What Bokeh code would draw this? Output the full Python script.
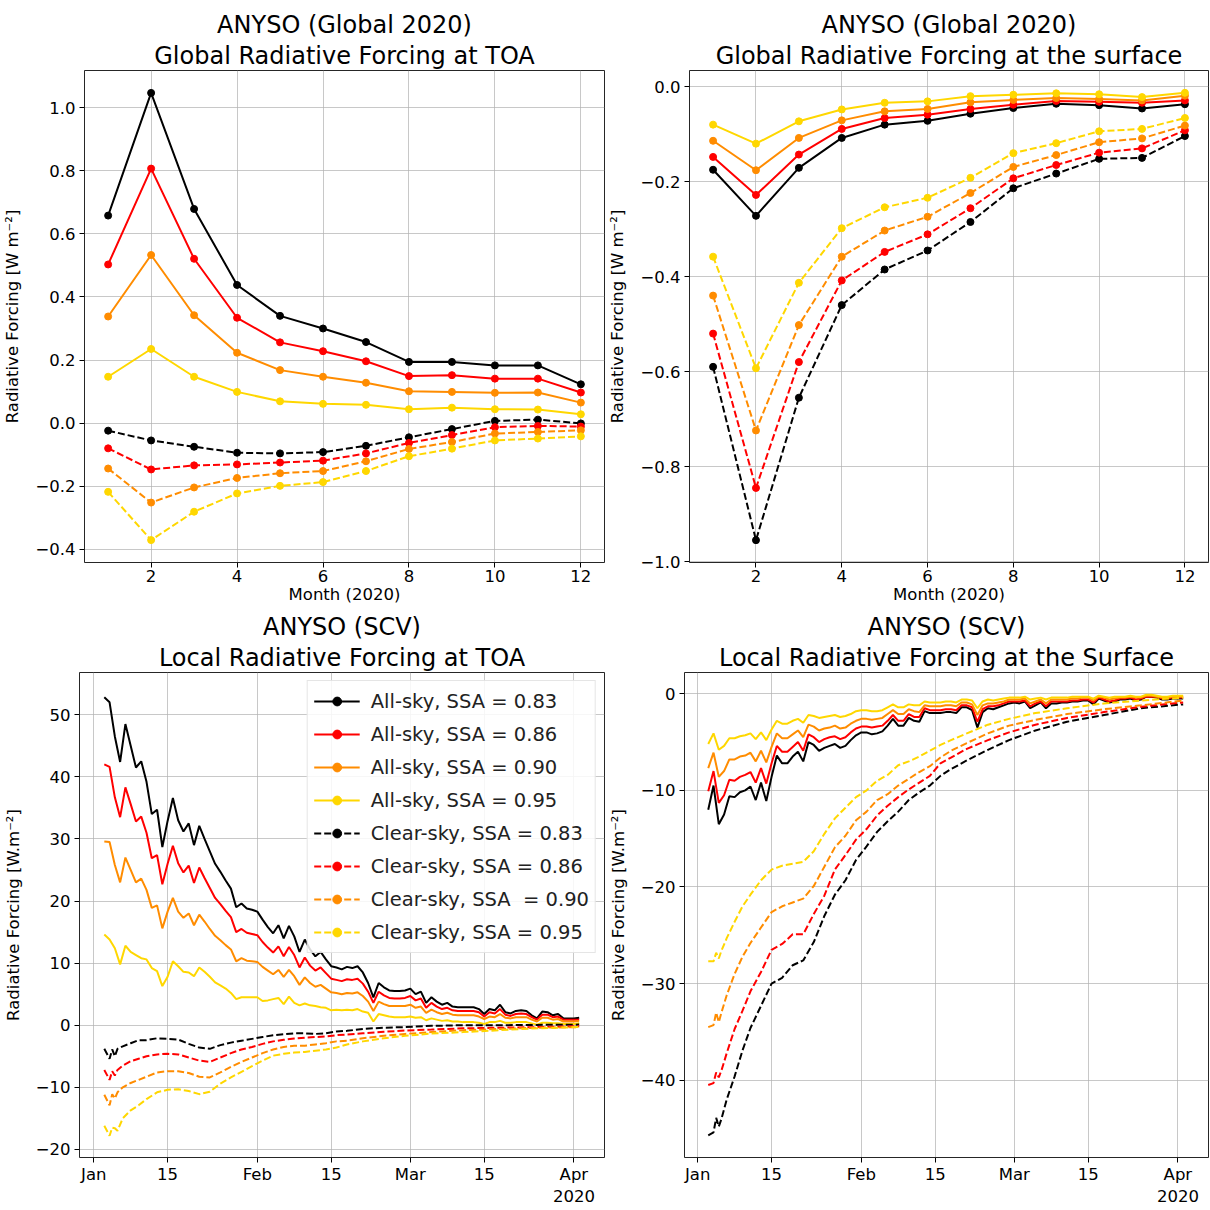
from bokeh.plotting import figure
from bokeh.layouts import column, row
from bokeh.models import (Range1d, FixedTicker, CustomJSTickFormatter, Title,
                          Legend, LegendItem)
from bokeh.embed import file_html
from bokeh.resources import INLINE

# ---------------- data: global monthly (top panels) ----------------
months = [1, 2, 3, 4, 5, 6, 7, 8, 9, 10, 11, 12]

glob_toa_all_083 = [0.658, 1.047, 0.679, 0.438, 0.340, 0.300, 0.257, 0.194, 0.194, 0.183, 0.183, 0.123]
glob_toa_all_086 = [0.503, 0.807, 0.521, 0.334, 0.256, 0.228, 0.196, 0.149, 0.152, 0.141, 0.141, 0.097]
glob_toa_all_090 = [0.338, 0.533, 0.342, 0.223, 0.168, 0.147, 0.128, 0.101, 0.099, 0.096, 0.097, 0.065]
glob_toa_all_095 = [0.147, 0.235, 0.147, 0.099, 0.069, 0.061, 0.058, 0.044, 0.049, 0.044, 0.043, 0.028]
glob_toa_clr_083 = [-0.024, -0.055, -0.075, -0.094, -0.096, -0.092, -0.072, -0.045, -0.019, 0.007, 0.011, -0.001]
glob_toa_clr_086 = [-0.080, -0.147, -0.134, -0.131, -0.125, -0.119, -0.096, -0.063, -0.038, -0.013, -0.009, -0.011]
glob_toa_clr_090 = [-0.144, -0.252, -0.204, -0.174, -0.159, -0.152, -0.121, -0.082, -0.060, -0.033, -0.028, -0.023]
glob_toa_clr_095 = [-0.218, -0.371, -0.281, -0.223, -0.199, -0.187, -0.152, -0.105, -0.081, -0.055, -0.049, -0.042]

glob_sfc_all_083 = [-0.175, -0.272, -0.171, -0.108, -0.080, -0.072, -0.057, -0.045, -0.036, -0.039, -0.046, -0.037]
glob_sfc_all_086 = [-0.148, -0.228, -0.143, -0.089, -0.066, -0.059, -0.047, -0.038, -0.030, -0.032, -0.034, -0.029]
glob_sfc_all_090 = [-0.114, -0.176, -0.108, -0.071, -0.052, -0.047, -0.033, -0.028, -0.024, -0.026, -0.029, -0.019]
glob_sfc_all_095 = [-0.080, -0.120, -0.073, -0.048, -0.034, -0.031, -0.020, -0.017, -0.014, -0.016, -0.022, -0.013]
glob_sfc_clr_083 = [-0.590, -0.955, -0.655, -0.460, -0.385, -0.345, -0.285, -0.214, -0.183, -0.152, -0.150, -0.104]
glob_sfc_clr_086 = [-0.520, -0.845, -0.580, -0.408, -0.348, -0.311, -0.256, -0.193, -0.165, -0.139, -0.130, -0.092]
glob_sfc_clr_090 = [-0.440, -0.724, -0.502, -0.358, -0.303, -0.274, -0.224, -0.169, -0.144, -0.117, -0.109, -0.082]
glob_sfc_clr_095 = [-0.358, -0.593, -0.413, -0.298, -0.254, -0.234, -0.192, -0.140, -0.119, -0.094, -0.089, -0.066]

# ---------------- data: local daily (bottom panels), day 0 = 1 Jan 2020 ----------------
days = list(range(2, 93))

scv_toa_all_083 = [52.8, 52.0, 46.5, 42.4, 48.5, 45.0, 41.5, 42.5, 39.2, 34.0,
                   34.7, 28.7, 32.9, 36.6, 33.0, 31.2, 32.5, 29.0, 32.1, 30.0,
                   28.0, 26.0, 24.7, 23.3, 22.0, 19.0, 19.6, 18.8, 18.6, 18.3,
                   17.0, 15.8, 14.8, 16.1, 14.0, 16.0, 14.3, 11.8, 13.8, 12.2,
                   11.1, 11.8, 10.6, 9.5, 9.3, 9.0, 9.4, 9.2, 9.5, 8.5,
                   6.8, 4.5, 6.8, 6.1, 5.6, 5.5, 5.5, 5.6, 5.9, 5.0,
                   5.4, 3.6, 4.5, 3.8, 3.3, 3.6, 3.0, 2.9, 2.9, 2.9,
                   2.9, 2.6, 1.8, 2.6, 2.4, 3.3, 2.1, 1.9, 2.3, 2.4,
                   2.3, 1.6, 1.1, 2.2, 2.1, 1.6, 1.8, 1.1, 1.1, 1.1, 1.2]
scv_toa_all_086 = [42.0, 41.6, 36.7, 33.5, 38.3, 35.6, 32.8, 33.6, 31.0, 26.9,
                   27.4, 22.7, 26.0, 28.9, 26.1, 24.6, 25.7, 22.9, 25.4, 23.7,
                   22.1, 20.5, 19.5, 18.4, 17.4, 15.0, 15.5, 14.9, 14.7, 14.5,
                   13.4, 12.5, 11.7, 12.7, 11.1, 12.6, 11.3, 9.3, 10.9, 9.6,
                   8.8, 9.3, 8.4, 7.5, 7.3, 7.1, 7.4, 7.3, 7.5, 6.7,
                   5.4, 3.6, 5.4, 4.8, 4.4, 4.3, 4.3, 4.4, 4.7, 4.0,
                   4.3, 2.8, 3.6, 3.0, 2.6, 2.8, 2.4, 2.3, 2.3, 2.3,
                   2.3, 2.1, 1.4, 2.1, 1.9, 2.6, 1.7, 1.5, 1.8, 1.9,
                   1.8, 1.3, 0.9, 1.7, 1.7, 1.3, 1.4, 0.9, 0.9, 0.9, 0.9]
scv_toa_all_090 = [29.6, 29.5, 25.8, 23.0, 27.0, 25.0, 23.0, 23.6, 21.8, 18.9,
                   19.3, 15.6, 18.3, 20.5, 18.3, 17.3, 18.0, 16.1, 17.8, 16.7,
                   15.5, 14.4, 13.7, 12.9, 12.2, 10.3, 10.8, 10.4, 10.3, 10.2,
                   9.4, 8.8, 8.2, 8.9, 7.8, 8.9, 7.9, 6.5, 7.7, 6.8,
                   6.2, 6.5, 5.9, 5.3, 5.2, 5.0, 5.2, 5.1, 5.3, 4.7,
                   3.8, 2.3, 3.8, 3.4, 3.1, 3.1, 3.1, 3.1, 3.3, 2.8,
                   3.0, 2.0, 2.5, 2.1, 1.8, 2.0, 1.7, 1.6, 1.6, 1.6,
                   1.6, 1.4, 1.0, 1.4, 1.3, 1.8, 1.2, 1.1, 1.3, 1.3,
                   1.3, 0.9, 0.6, 1.2, 1.2, 0.9, 1.0, 0.6, 0.6, 0.6, 0.7]
scv_toa_all_095 = [14.6, 13.8, 12.4, 9.8, 12.8, 11.8, 11.3, 10.8, 10.6, 9.2,
                   8.7, 6.3, 7.8, 10.3, 9.5, 8.6, 8.5, 7.9, 9.3, 8.6,
                   7.8, 6.9, 6.4, 5.9, 5.2, 4.2, 4.5, 4.5, 4.5, 4.5,
                   3.9, 4.0, 4.2, 4.4, 3.4, 4.6, 3.6, 3.2, 3.5, 3.2,
                   3.1, 2.9, 2.8, 2.4, 2.5, 2.4, 2.5, 2.4, 2.6, 2.2,
                   2.0, 0.6, 1.8, 1.6, 1.4, 1.3, 1.3, 1.3, 1.4, 1.2,
                   1.3, 0.8, 1.1, 0.9, 0.7, 0.8, 0.6, 0.6, 0.5, 0.5,
                   0.5, 0.4, 0.2, 0.5, 0.5, 0.7, 0.4, 0.4, 0.5, 0.5,
                   0.5, 0.3, 0.1, 0.4, 0.4, 0.3, 0.3, 0.2, 0.2, 0.2, 0.3]

scv_sfc_all_083 = [-12.0, -9.5, -13.5, -12.5, -10.6, -10.7, -10.2, -10.0, -9.6, -11.0,
                   -9.2, -11.1, -8.6, -6.4, -7.2, -7.2, -6.5, -6.0, -7.0, -5.0,
                   -5.3, -5.9, -5.6, -5.4, -5.2, -5.6, -5.4, -4.8, -4.3, -4.0,
                   -4.0, -4.2, -4.1, -3.9, -3.3, -2.6, -3.3, -3.3, -2.5, -2.8,
                   -2.9, -1.8, -2.0, -2.0, -2.0, -1.9, -1.9, -2.0, -1.4, -1.4,
                   -1.7, -3.5, -1.9, -1.5, -1.6, -1.4, -1.2, -1.0, -0.9, -1.0,
                   -0.8, -1.5, -1.2, -0.9, -1.5, -1.0, -1.0, -0.9, -0.9, -0.8,
                   -0.8, -0.7, -0.7, -1.1, -0.5, -0.7, -0.9, -0.8, -0.6, -0.6,
                   -0.5, -0.7, -0.6, -0.3, -0.3, -0.4, -0.6, -0.6, -0.5, -0.5, -0.5]
scv_sfc_all_086 = [-10.1, -8.0, -11.3, -10.5, -8.9, -9.0, -8.6, -8.4, -8.1, -9.2,
                   -7.7, -9.3, -7.2, -5.4, -6.0, -6.0, -5.5, -5.0, -5.9, -4.2,
                   -4.5, -5.0, -4.7, -4.5, -4.4, -4.7, -4.5, -4.0, -3.6, -3.4,
                   -3.4, -3.5, -3.4, -3.3, -2.8, -2.2, -2.8, -2.8, -2.1, -2.4,
                   -2.4, -1.5, -1.7, -1.7, -1.7, -1.6, -1.6, -1.7, -1.2, -1.2,
                   -1.4, -2.9, -1.6, -1.3, -1.3, -1.2, -1.0, -0.8, -0.8, -0.8,
                   -0.7, -1.3, -1.0, -0.8, -1.3, -0.8, -0.8, -0.8, -0.8, -0.7,
                   -0.7, -0.6, -0.6, -0.9, -0.4, -0.6, -0.8, -0.7, -0.5, -0.5,
                   -0.4, -0.6, -0.5, -0.3, -0.3, -0.3, -0.5, -0.5, -0.4, -0.4, -0.4]
scv_sfc_all_090 = [-7.7, -6.1, -8.6, -8.0, -6.8, -6.8, -6.5, -6.4, -6.1, -7.0,
                   -5.9, -7.1, -5.5, -4.1, -4.6, -4.6, -4.2, -3.8, -4.5, -3.2,
                   -3.4, -3.8, -3.6, -3.5, -3.3, -3.6, -3.5, -3.1, -2.8, -2.6,
                   -2.6, -2.7, -2.6, -2.5, -2.1, -1.7, -2.1, -2.1, -1.6, -1.8,
                   -1.9, -1.2, -1.3, -1.3, -1.3, -1.2, -1.2, -1.3, -0.9, -0.9,
                   -1.1, -2.2, -1.2, -1.0, -1.0, -0.9, -0.8, -0.6, -0.6, -0.6,
                   -0.5, -1.0, -0.8, -0.6, -1.0, -0.6, -0.6, -0.6, -0.6, -0.5,
                   -0.5, -0.4, -0.4, -0.7, -0.3, -0.4, -0.6, -0.5, -0.4, -0.4,
                   -0.3, -0.4, -0.4, -0.2, -0.2, -0.3, -0.4, -0.4, -0.3, -0.3, -0.3]
scv_sfc_all_095 = [-5.2, -4.1, -5.8, -5.4, -4.6, -4.6, -4.4, -4.3, -4.1, -4.7,
                   -4.0, -4.8, -3.7, -2.8, -3.1, -3.1, -2.8, -2.6, -3.0, -2.2,
                   -2.3, -2.5, -2.4, -2.3, -2.2, -2.4, -2.3, -2.1, -1.8, -1.7,
                   -1.7, -1.8, -1.8, -1.7, -1.4, -1.1, -1.4, -1.4, -1.1, -1.2,
                   -1.2, -0.8, -0.9, -0.9, -0.9, -0.8, -0.8, -0.9, -0.6, -0.6,
                   -0.7, -1.5, -0.8, -0.6, -0.7, -0.6, -0.5, -0.4, -0.4, -0.4,
                   -0.3, -0.6, -0.5, -0.4, -0.6, -0.4, -0.4, -0.4, -0.4, -0.3,
                   -0.3, -0.3, -0.3, -0.5, -0.2, -0.3, -0.4, -0.3, -0.3, -0.3,
                   -0.2, -0.3, -0.3, -0.1, -0.1, -0.2, -0.3, -0.3, -0.2, -0.2, -0.2]

# clear-sky local series (smooth), sampled on these days
days_cs = [2, 3, 3.5, 4, 4.5, 5.5, 7, 8.5, 10, 12, 14, 16, 18, 20, 22, 24, 26, 28,
           30, 32, 34, 36, 38, 40, 42, 44, 46, 48, 51, 55, 59, 64, 70, 77, 84, 92]

scv_toa_clr_083 = [-3.8, -5.4, -3.9, -5.0, -3.8, -3.4, -2.9, -2.4, -2.4, -2.1,
                   -2.2, -2.3, -3.0, -3.6, -3.8, -3.2, -2.8, -2.5, -2.2, -1.9,
                   -1.6, -1.45, -1.3, -1.3, -1.4, -1.3, -1.0, -0.9, -0.6, -0.4,
                   -0.3, -0.1, 0.0, 0.0, 0.05, 0.1]
scv_toa_clr_086 = [-7.2, -8.8, -7.4, -8.1, -7.2, -6.5, -5.8, -5.4, -5.0, -4.7,
                   -4.6, -4.7, -5.2, -5.7, -5.9, -5.2, -4.5, -3.9, -3.5, -3.0,
                   -2.6, -2.35, -2.15, -2.0, -1.9, -1.8, -1.6, -1.5, -1.3, -1.05,
                   -0.85, -0.7, -0.5, -0.4, -0.3, -0.15]
scv_toa_clr_090 = [-11.2, -12.9, -11.1, -11.8, -10.8, -10.0, -9.3, -8.8, -8.3, -7.6,
                   -7.4, -7.4, -7.7, -8.3, -8.4, -7.6, -6.7, -5.9, -5.2, -4.5,
                   -3.9, -3.5, -3.3, -3.3, -3.1, -2.9, -2.6, -2.5, -2.1, -1.7,
                   -1.4, -1.1, -0.8, -0.6, -0.4, -0.3]
scv_toa_clr_095 = [-16.2, -17.8, -16.5, -16.6, -17.0, -15.0, -13.7, -12.9, -11.9, -10.8,
                   -10.4, -10.3, -10.6, -11.1, -10.7, -9.4, -8.4, -7.5, -6.6, -5.7,
                   -4.9, -4.6, -4.4, -4.3, -4.1, -3.9, -3.6, -3.1, -2.6, -2.1,
                   -1.7, -1.35, -1.1, -0.8, -0.5, -0.3]

scv_sfc_clr_083 = [-45.7, -45.4, -43.9, -44.8, -44.0, -42.0, -39.6, -36.9, -34.6, -32.3,
                   -30.0, -29.4, -28.1, -27.6, -25.7, -23.0, -20.8, -19.3, -17.2, -15.8,
                   -14.3, -13.2, -12.2, -11.0, -10.2, -9.5, -8.5, -7.8, -6.9, -5.8,
                   -4.8, -3.8, -2.9, -2.2, -1.5, -1.1]
scv_sfc_clr_086 = [-40.5, -40.3, -39.2, -39.7, -39.0, -37.2, -34.7, -32.8, -30.8, -28.8,
                   -26.5, -25.9, -24.9, -24.9, -22.8, -20.9, -18.2, -16.7, -15.1, -14.0,
                   -12.6, -11.6, -10.7, -9.9, -9.2, -8.5, -7.2, -6.6, -5.7, -4.8,
                   -4.0, -3.2, -2.5, -1.9, -1.35, -0.9]
scv_sfc_clr_090 = [-34.5, -34.3, -33.0, -34.0, -33.0, -31.2, -29.0, -27.2, -25.8, -24.2,
                   -22.6, -22.0, -21.6, -21.2, -19.9, -17.9, -15.9, -14.7, -13.1, -12.2,
                   -11.0, -10.4, -9.5, -8.8, -8.1, -7.5, -6.6, -5.9, -5.1, -4.1,
                   -3.3, -2.7, -2.1, -1.6, -1.2, -0.7]
scv_sfc_clr_095 = [-27.7, -27.7, -26.8, -27.4, -26.6, -25.3, -23.6, -22.0, -20.8, -19.3,
                   -18.2, -17.8, -17.6, -17.4, -16.3, -14.5, -12.9, -11.8, -10.7, -10.0,
                   -9.0, -8.4, -7.4, -7.0, -6.5, -5.9, -5.3, -4.8, -4.1, -3.2,
                   -2.6, -2.0, -1.5, -1.0, -0.7, -0.4]

# tick labels
month_ticks = [2, 4, 6, 8, 10, 12]
date_tick_days = [0, 14, 31, 45, 60, 74, 91]
date_tick_labels = ["Jan", "15", "Feb", "15", "Mar", "15", "Apr\n2020"]

legend_labels = ["All-sky, SSA = 0.83", "All-sky, SSA = 0.86", "All-sky, SSA = 0.90",
                 "All-sky, SSA = 0.95", "Clear-sky, SSA = 0.83", "Clear-sky, SSA = 0.86",
                 "Clear-sky, SSA  = 0.90", "Clear-sky, SSA = 0.95"]

# ---------------- styling helpers ----------------
FONT = "DejaVu Sans"
COLORS = ["black", "#ff0000", "#ff8c00", "#ffd700"]
DASH = "7 3"
TICK_FS = "16.5px"


def num_fmt(decimals):
    return CustomJSTickFormatter(
        code="return tick.toFixed(%d).replace('-', '\u2212');" % decimals)


def date_fmt():
    return CustomJSTickFormatter(
        args=dict(days=date_tick_days, labels=date_tick_labels),
        code="const i = days.indexOf(Math.round(tick)); return i >= 0 ? labels[i] : '';")


def make_fig(width, height, xr, yr, bl, br, bt, bb, t1, t2, ylabel, xticks, yticks,
             xfmt, yfmt, xlabel=None):
    p = figure(width=width, height=height, title=None,
               x_range=Range1d(*xr), y_range=Range1d(*yr),
               output_backend="svg", toolbar_location=None,
               min_border_left=bl, min_border_right=br,
               min_border_top=bt, min_border_bottom=bb)
    p.add_layout(Title(text=t2, align="center", text_font=FONT, text_font_size="24px",
                       text_font_style="normal", text_color="black", standoff=2), "above")
    p.add_layout(Title(text=t1, align="center", text_font=FONT, text_font_size="24px",
                       text_font_style="normal", text_color="black", standoff=0), "above")
    xt = FixedTicker(ticks=xticks)
    yt = FixedTicker(ticks=yticks)
    p.xaxis.ticker = xt
    p.yaxis.ticker = yt
    p.xgrid.ticker = xt
    p.ygrid.ticker = yt
    p.xaxis.formatter = xfmt
    p.yaxis.formatter = yfmt
    for ax in (p.xaxis[0], p.yaxis[0]):
        ax.major_label_text_font = FONT
        ax.major_label_text_font_size = TICK_FS
        ax.major_label_text_color = "black"
        ax.axis_label_text_font = FONT
        ax.axis_label_text_font_size = TICK_FS
        ax.axis_label_text_font_style = "normal"
        ax.axis_label_text_color = "black"
        ax.major_tick_in = 0
        ax.major_tick_out = 5
        ax.minor_tick_in = 0
        ax.minor_tick_out = 0
        ax.major_tick_line_color = "black"
        ax.axis_line_color = None
    p.xaxis.major_label_standoff = 2
    p.yaxis.major_label_standoff = 4
    p.yaxis.axis_label = ylabel
    p.yaxis.axis_label_standoff = 10
    if xlabel:
        p.xaxis.axis_label = xlabel
        p.xaxis.axis_label_standoff = 0
    for g in (p.xgrid[0], p.ygrid[0]):
        g.grid_line_color = "#b0b0b0"
        g.grid_line_alpha = 0.7
        g.grid_line_width = 1
    p.outline_line_color = "black"
    p.outline_line_width = 1
    p.outline_line_alpha = 0.85
    p.background_fill_color = "white"
    return p


# ---------------- top-left: global TOA ----------------
p1 = make_fig(605, 610, (0.45, 12.55), (-0.442, 1.118), 83, 1, 70, 48,
              "ANYSO (Global 2020)", "Global Radiative Forcing at TOA",
              "Radiative Forcing [W m\u207b\u00b2]", month_ticks,
              [-0.4, -0.2, 0.0, 0.2, 0.4, 0.6, 0.8, 1.0], num_fmt(0), num_fmt(1),
              xlabel="Month (2020)")
for c, ys in zip(COLORS, [glob_toa_all_083, glob_toa_all_086, glob_toa_all_090, glob_toa_all_095]):
    p1.line(months, ys, line_color=c, line_width=2)
    p1.scatter(months, ys, size=7, color=c)
for c, ys in zip(COLORS, [glob_toa_clr_083, glob_toa_clr_086, glob_toa_clr_090, glob_toa_clr_095]):
    p1.line(months, ys, line_color=c, line_width=2, line_dash=DASH)
    p1.scatter(months, ys, size=7, color=c)

# ---------------- top-right: global surface ----------------
p2 = make_fig(604, 610, (0.45, 12.55), (-1.002, 0.034), 83, 1, 70, 48,
              "ANYSO (Global 2020)", "Global Radiative Forcing at the surface",
              "Radiative Forcing [W m\u207b\u00b2]", month_ticks,
              [-1.0, -0.8, -0.6, -0.4, -0.2, 0.0], num_fmt(0), num_fmt(1),
              xlabel="Month (2020)")
for c, ys in zip(COLORS, [glob_sfc_all_083, glob_sfc_all_086, glob_sfc_all_090, glob_sfc_all_095]):
    p2.line(months, ys, line_color=c, line_width=2)
    p2.scatter(months, ys, size=7, color=c)
for c, ys in zip(COLORS, [glob_sfc_clr_083, glob_sfc_clr_086, glob_sfc_clr_090, glob_sfc_clr_095]):
    p2.line(months, ys, line_color=c, line_width=2, line_dash=DASH)
    p2.scatter(months, ys, size=7, color=c)

# ---------------- bottom-left: local TOA ----------------
p3 = make_fig(605, 599, (-2.7, 96.8), (-21.3, 56.8), 77, 1, 62, 47,
              "ANYSO (SCV)", "Local Radiative Forcing at TOA",
              "Radiative Forcing [W.m\u207b\u00b2]", date_tick_days,
              [-20, -10, 0, 10, 20, 30, 40, 50], date_fmt(), num_fmt(0))
# an off-screen range: the legend's dot glyphs come from renderers that draw nothing visible
p3.extra_y_ranges = {"legend_dots": Range1d(start=1000, end=1001)}
line_r = []
dot_r = []
for c, ys in zip(COLORS, [scv_toa_all_083, scv_toa_all_086, scv_toa_all_090, scv_toa_all_095]):
    line_r.append(p3.line(days, ys, line_color=c, line_width=2))
    dot_r.append(p3.scatter(days, ys, size=8, color=c, y_range_name="legend_dots"))
for c, ys in zip(COLORS, [scv_toa_clr_083, scv_toa_clr_086, scv_toa_clr_090, scv_toa_clr_095]):
    line_r.append(p3.line(days_cs, ys, line_color=c, line_width=2, line_dash=DASH))
    dot_r.append(p3.scatter(days_cs, ys, size=8, color=c, y_range_name="legend_dots"))

items = [LegendItem(label=lab, renderers=[lr, dr])
         for lab, lr, dr in zip(legend_labels, line_r, dot_r)]
legend = Legend(items=items, location="top_right",
                label_text_font=FONT, label_text_font_size="19.5px",
                label_text_color="#222222",
                glyph_width=46, glyph_height=22, label_height=28,
                spacing=5, padding=6, margin=8, label_standoff=11,
                border_line_color="#cccccc", border_line_width=1,
                background_fill_color="white", background_fill_alpha=0.85)
p3.add_layout(legend)

# ---------------- bottom-right: local surface ----------------
p4 = make_fig(604, 599, (-2.5, 96.8), (-48.0, 2.2), 78, 1, 62, 47,
              "ANYSO (SCV)", "Local Radiative Forcing at the Surface",
              "Radiative Forcing [W.m\u207b\u00b2]", date_tick_days,
              [-40, -30, -20, -10, 0], date_fmt(), num_fmt(0))
for c, ys in zip(COLORS, [scv_sfc_all_083, scv_sfc_all_086, scv_sfc_all_090, scv_sfc_all_095]):
    p4.line(days, ys, line_color=c, line_width=2)
for c, ys in zip(COLORS, [scv_sfc_clr_083, scv_sfc_clr_086, scv_sfc_clr_090, scv_sfc_clr_095]):
    p4.line(days_cs, ys, line_color=c, line_width=2, line_dash=DASH)

layout = column(row(p1, p2), row(p3, p4))
open("out.html", "w").write(file_html(layout, INLINE))
